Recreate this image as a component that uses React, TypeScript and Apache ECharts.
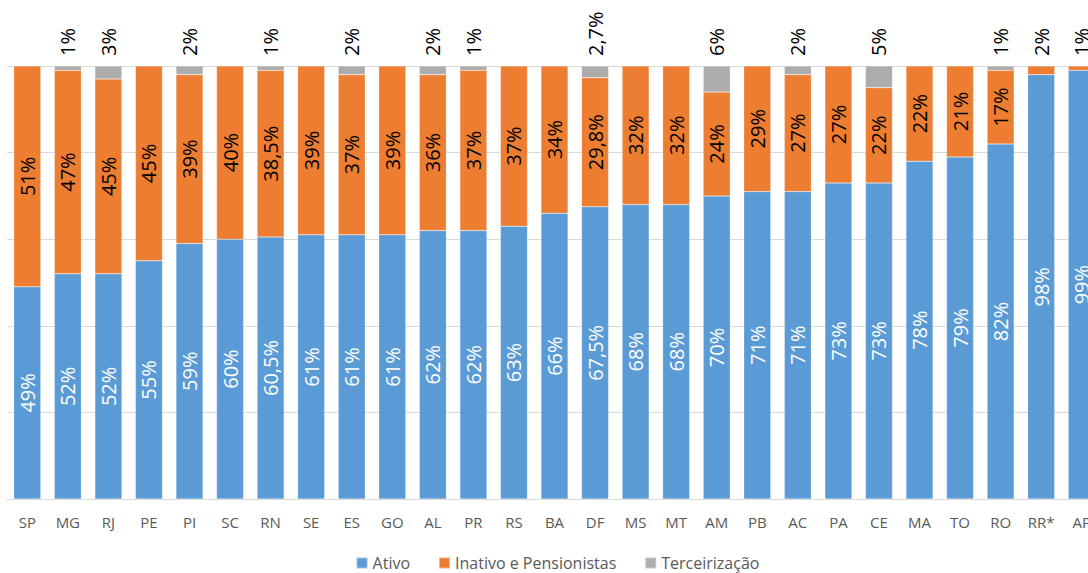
import React, { useEffect, useRef } from "react";
import * as echarts from "echarts";

const categories = ["SP", "MG", "RJ", "PE", "PI", "SC", "RN", "SE", "ES", "GO", "AL", "PR", "RS", "BA", "DF", "MS", "MT", "AM", "PB", "AC", "PA", "CE", "MA", "TO", "RO", "RR*", "AP"];
const ativo = [49, 52, 52, 55, 59, 60, 60.5, 61, 61, 61, 62, 62, 63, 66, 67.5, 68, 68, 70, 71, 71, 73, 73, 78, 79, 82, 98, 99];
const inativo = [51, 47, 45, 45, 39, 40, 38.5, 39, 37, 39, 36, 37, 37, 34, 29.8, 32, 32, 24, 29, 27, 27, 22, 22, 21, 17, 2, 1];
const terceirizacao: (number | null)[] = [null, 1, 3, null, 2, null, 1, null, 2, null, 2, 1, null, null, 2.7, null, null, 6, null, 2, null, 5, null, null, 1, null, null];
const seriesNames = ["Ativo", "Inativo e Pensionistas", "Terceirização"];
const colors = ["#5B9BD5", "#ED7D31", "#AEABAB"];

const fmt = (v: any) => {
  const n = typeof v === "object" && v !== null ? v.value : v;
  if (n === null || n === undefined || n === 0) return "";
  return String(n).replace(".", ",") + "%";
};

const FONT = "'Open Sans', 'Noto Sans', sans-serif";

export default function App() {
  const ref = useRef<HTMLDivElement>(null);
  useEffect(() => {
    if (!ref.current) return;
    const chart = echarts.init(ref.current, undefined, { renderer: "svg" });
    const outsideLabel = {
      show: true,
      position: "top",
      rotate: 90,
      align: "left",
      verticalAlign: "middle",
      distance: 10,
      fontSize: 20,
      fontFamily: FONT,
      color: "#000",
      formatter: (p: any) => fmt(p.value),
    };
    const insideLabel = (color: string) => ({
      show: true,
      position: "inside",
      rotate: 90,
      fontSize: 20,
      fontFamily: FONT,
      color,
      formatter: (p: any) => fmt(p.value),
    });
    const border = { borderColor: "rgba(255,255,255,0.4)", borderWidth: 0.5 };
    chart.setOption({
      animation: false,
      grid: { left: 7, right: 13, top: 66, bottom: 74, containLabel: false },
      legend: {
        top: 555,
        left: "center",
        padding: 0,
        itemWidth: 11,
        itemHeight: 11,
        itemGap: 28,
        icon: "rect",
        textStyle: { fontSize: 16, color: "#595959", fontFamily: FONT },
        data: seriesNames,
      },
      xAxis: {
        type: "category",
        data: categories,
        axisTick: { show: false },
        axisLine: { lineStyle: { color: "#d9d9d9" } },
        axisLabel: { color: "#595959", fontSize: 15, fontFamily: FONT, margin: 15, interval: 0 },
      },
      yAxis: {
        type: "value",
        min: 0,
        max: 100,
        interval: 20,
        axisLabel: { show: false },
        axisLine: { show: false },
        axisTick: { show: false },
        splitLine: { lineStyle: { color: "#d9d9d9" } },
      },
      series: [
        {
          name: seriesNames[0],
          type: "bar",
          stack: "total",
          barCategoryGap: "33.4%",
          itemStyle: { color: colors[0], ...border },
          label: insideLabel("#ffffff"),
          data: ativo,
        },
        {
          name: seriesNames[1],
          type: "bar",
          stack: "total",
          itemStyle: { color: colors[1], ...border },
          label: insideLabel("#000"),
          data: inativo.map((v) => (v < 5 ? { value: v, label: outsideLabel } : v)),
        },
        {
          name: seriesNames[2],
          type: "bar",
          stack: "total",
          itemStyle: { color: colors[2], ...border },
          label: outsideLabel,
          data: terceirizacao,
        },
      ],
    });
    return () => chart.dispose();
  }, []);
  return (
    <div style={{ position: "fixed", left: 0, top: 0, width: 1088, height: 573, overflow: "hidden", background: "#fff" }}>
      <div ref={ref} style={{ width: 1115, height: 573 }} />
    </div>
  );
}
